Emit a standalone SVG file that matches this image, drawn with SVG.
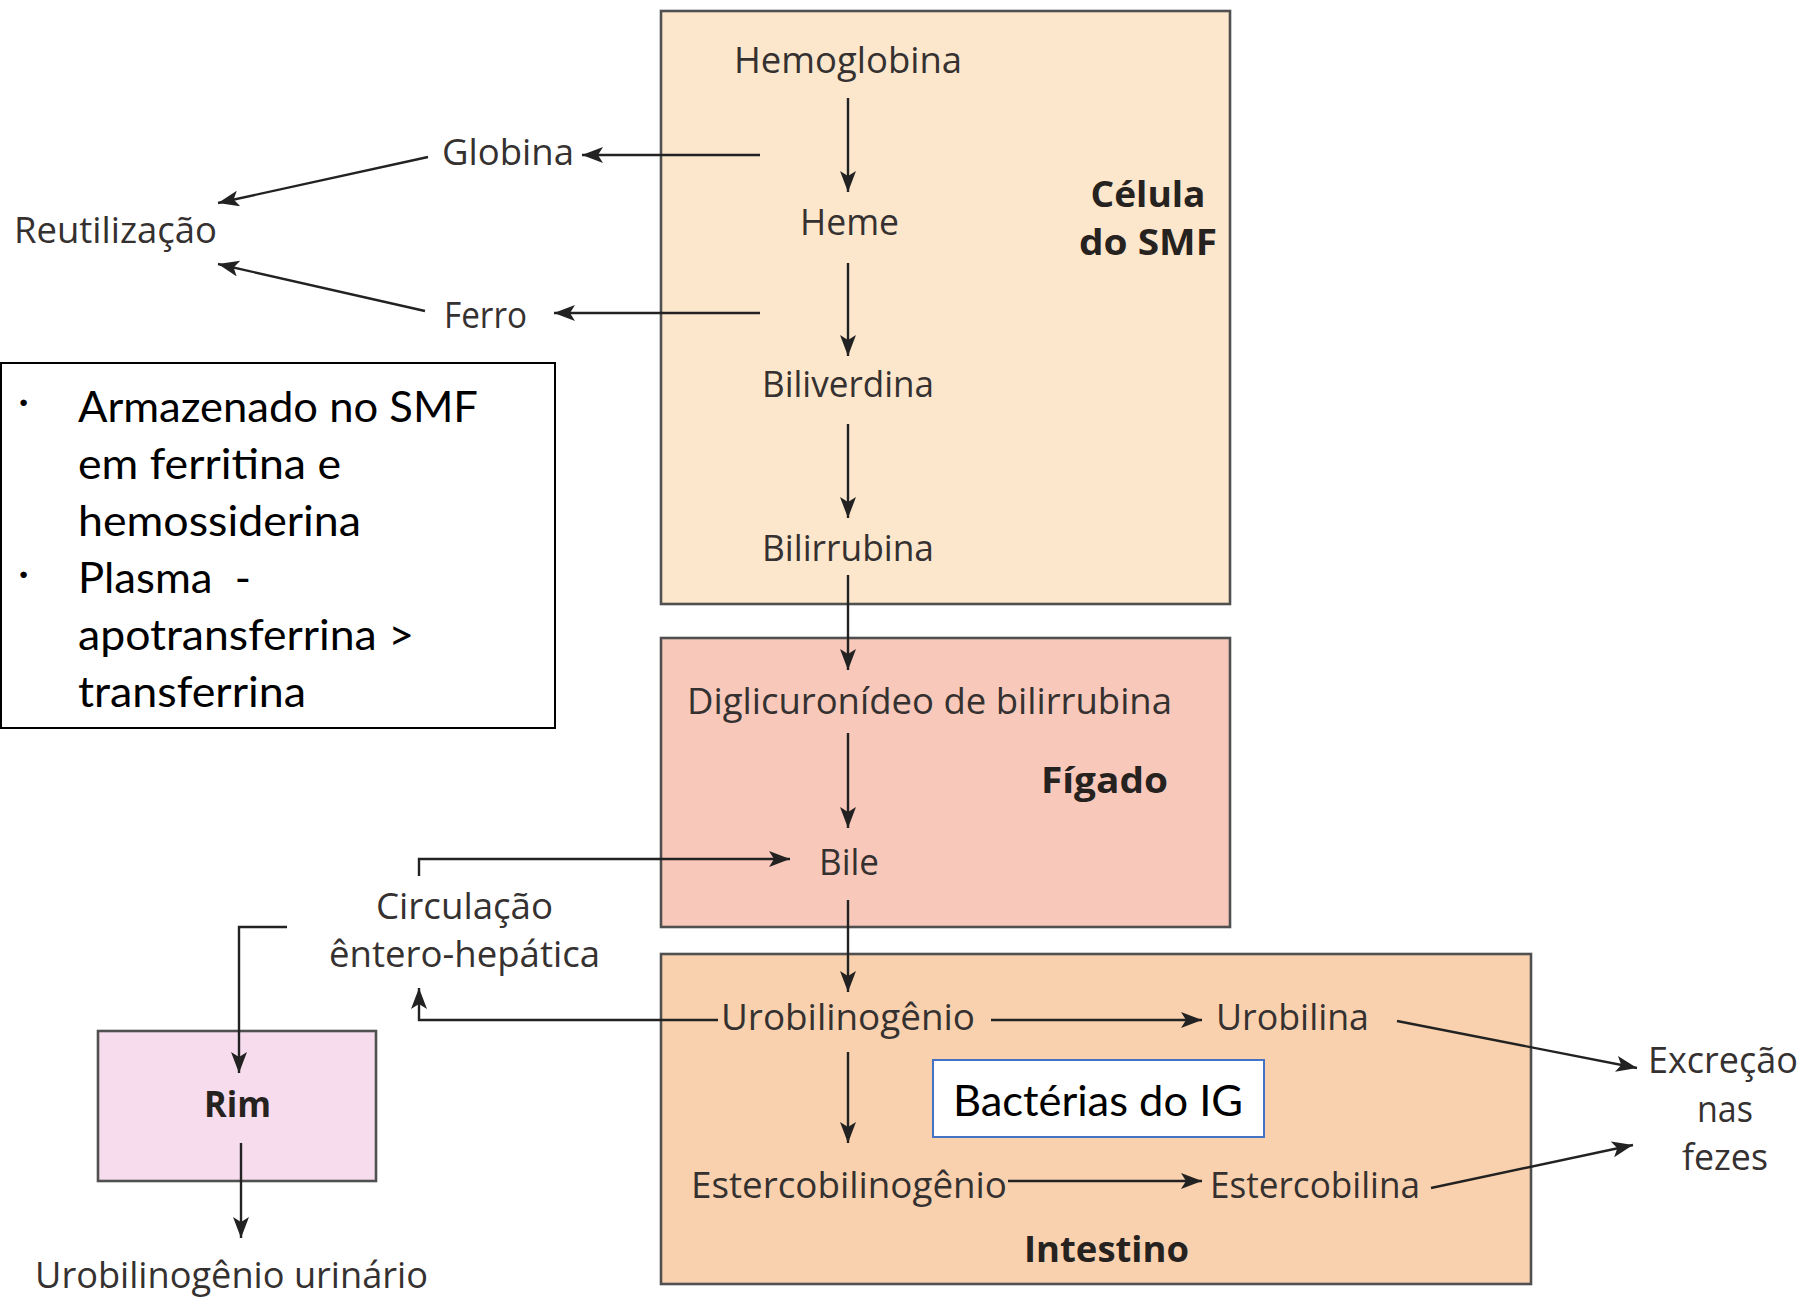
<svg xmlns="http://www.w3.org/2000/svg" width="1815" height="1299" viewBox="0 0 1815 1299">
<defs>
<marker id="ah" markerUnits="userSpaceOnUse" markerWidth="22" markerHeight="18" refX="21" refY="8" orient="auto">
<path d="M0,0 L21,8 L0,16 L5,8 Z" fill="#222"/>
</marker>
<style>
.lbl{font-family:"Open Sans","Noto Sans",sans-serif;font-size:36px;fill:#353130;text-anchor:middle}
.bold{font-weight:700;fill:#262220}
.note{font-family:Lato,"Open Sans",sans-serif;font-size:43px;fill:#000}
.box{stroke:#505050;stroke-width:2.6}
.cna{fill:none;stroke:#222;stroke-width:2.4;marker-end:url(#ah)}
</style>
</defs>
<rect width="1815" height="1299" fill="#fff"/>

<g id="smf">
<rect class="box" x="661" y="11" width="569" height="593" fill="#fce6cc"/>
<text class="lbl bold" x="1148" y="207" textLength="115" lengthAdjust="spacingAndGlyphs">Célula</text>
<text class="lbl bold" x="1148" y="255" textLength="138" lengthAdjust="spacingAndGlyphs">do SMF</text>
</g>
<g id="figado">
<rect class="box" x="661" y="638" width="569" height="289" fill="#f8c9bb"/>
<text class="lbl bold" x="1104.5" y="793" textLength="127" lengthAdjust="spacingAndGlyphs">Fígado</text>
</g>
<g id="intestino">
<rect class="box" x="661" y="954" width="870" height="330" fill="#f9d1ae"/>
<text class="lbl bold" x="1106.5" y="1262" textLength="165" lengthAdjust="spacingAndGlyphs">Intestino</text>
</g>
<g id="rim">
<rect class="box" x="98" y="1031" width="278" height="150" fill="#f6dcec"/>
<text class="lbl bold" x="237.5" y="1117" textLength="67" lengthAdjust="spacingAndGlyphs">Rim</text>
</g>
<g id="nota">
<rect x="1" y="363" width="554" height="365" fill="#fff" stroke="#000" stroke-width="2"/>
<text class="note" x="18" y="416">·</text>
<text class="note" x="18" y="588">·</text>
<text class="note" x="78" y="422" textLength="400" lengthAdjust="spacingAndGlyphs">Armazenado no SMF</text>
<text class="note" x="78" y="479" textLength="263" lengthAdjust="spacingAndGlyphs">em ferritina e</text>
<text class="note" x="78" y="536" textLength="283" lengthAdjust="spacingAndGlyphs">hemossiderina</text>
<text class="note" x="78" y="593" xml:space="preserve" textLength="173" lengthAdjust="spacingAndGlyphs">Plasma  -</text>
<text class="note" x="78" y="650" textLength="336" lengthAdjust="spacingAndGlyphs">apotransferrina &gt;</text>
<text class="note" x="78" y="707" textLength="228" lengthAdjust="spacingAndGlyphs">transferrina</text>
</g>
<g id="bacterias">
<rect x="933" y="1060" width="331" height="77" fill="#fff" stroke="#4472c4" stroke-width="2"/>
<text class="note" x="1098" y="1116" text-anchor="middle" font-size="42" textLength="290" lengthAdjust="spacingAndGlyphs">Bactérias do IG</text>
</g>

<g id="hemoglobina"><text class="lbl" x="848" y="73" textLength="228" lengthAdjust="spacingAndGlyphs">Hemoglobina</text></g>
<g id="heme"><text class="lbl" x="849.5" y="235" textLength="99" lengthAdjust="spacingAndGlyphs">Heme</text></g>
<g id="biliverdina"><text class="lbl" x="848" y="397" textLength="172" lengthAdjust="spacingAndGlyphs">Biliverdina</text></g>
<g id="bilirrubina"><text class="lbl" x="848" y="561" textLength="172" lengthAdjust="spacingAndGlyphs">Bilirrubina</text></g>
<g id="globina"><text class="lbl" x="508" y="165" textLength="132" lengthAdjust="spacingAndGlyphs">Globina</text></g>
<g id="ferro"><text class="lbl" x="485.5" y="328" textLength="83" lengthAdjust="spacingAndGlyphs">Ferro</text></g>
<g id="reutilizacao"><text class="lbl" x="115.5" y="243" textLength="203" lengthAdjust="spacingAndGlyphs">Reutilização</text></g>
<g id="diglicuronideo"><text class="lbl" x="929.5" y="714" textLength="485" lengthAdjust="spacingAndGlyphs">Diglicuronídeo de bilirrubina</text></g>
<g id="bile"><text class="lbl" x="849" y="875" textLength="60" lengthAdjust="spacingAndGlyphs">Bile</text></g>
<g id="circulacao">
<text class="lbl" x="464.5" y="919" textLength="177" lengthAdjust="spacingAndGlyphs">Circulação</text>
<text class="lbl" x="464.5" y="967" textLength="271" lengthAdjust="spacingAndGlyphs">êntero-hepática</text>
</g>
<g id="urinario"><text class="lbl" x="231.5" y="1288" textLength="393" lengthAdjust="spacingAndGlyphs">Urobilinogênio urinário</text></g>
<g id="urobilinogenio"><text class="lbl" x="848" y="1030" textLength="254" lengthAdjust="spacingAndGlyphs">Urobilinogênio</text></g>
<g id="urobilina"><text class="lbl" x="1292.5" y="1030" textLength="153" lengthAdjust="spacingAndGlyphs">Urobilina</text></g>
<g id="estercobilinogenio"><text class="lbl" x="849" y="1198" textLength="316" lengthAdjust="spacingAndGlyphs">Estercobilinogênio</text></g>
<g id="estercobilina"><text class="lbl" x="1315" y="1198" textLength="210" lengthAdjust="spacingAndGlyphs">Estercobilina</text></g>
<g id="excrecao">
<text class="lbl" x="1723" y="1073" textLength="150" lengthAdjust="spacingAndGlyphs">Excreção</text>
<text class="lbl" x="1725" y="1122" textLength="56" lengthAdjust="spacingAndGlyphs">nas</text>
<text class="lbl" x="1725" y="1170" textLength="86" lengthAdjust="spacingAndGlyphs">fezes</text>
</g>

<g id="connectors">
<line class="cna" x1="848" y1="98" x2="848" y2="192"/>
<line class="cna" x1="848" y1="263" x2="848" y2="356"/>
<line class="cna" x1="848" y1="424" x2="848" y2="518"/>
<line class="cna" x1="848" y1="575" x2="848" y2="670"/>
<line class="cna" x1="848" y1="733" x2="848" y2="828"/>
<line class="cna" x1="848" y1="900" x2="848" y2="992"/>
<line class="cna" x1="848" y1="1052" x2="848" y2="1143"/>
<line class="cna" x1="760" y1="155" x2="582" y2="155"/>
<line class="cna" x1="760" y1="313" x2="554" y2="313"/>
<line class="cna" x1="428" y1="157" x2="218" y2="203"/>
<line class="cna" x1="425" y1="311" x2="218" y2="264"/>
<path class="cna" d="M419,876 V859 H790"/>
<path class="cna" d="M718,1020 H419 V988"/>
<path class="cna" d="M287,927 H239 V1073"/>
<line class="cna" x1="241" y1="1143" x2="241" y2="1238"/>
<line class="cna" x1="991" y1="1020" x2="1202" y2="1020"/>
<line class="cna" x1="1008" y1="1181" x2="1202" y2="1181"/>
<line class="cna" x1="1397" y1="1021" x2="1637" y2="1068"/>
<line class="cna" x1="1431" y1="1188" x2="1633" y2="1145"/>
</g>
</svg>
